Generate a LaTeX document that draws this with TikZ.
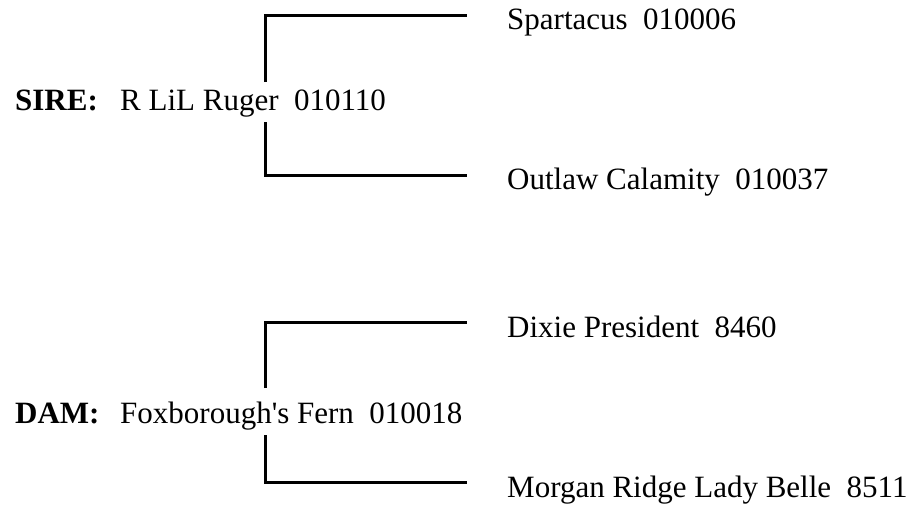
\documentclass[tikz,border=0pt]{standalone}
\usepackage{fontspec}
\setmainfont{Liberation Serif}
\begin{document}
\begin{tikzpicture}[x=1pt,y=-1pt,
  lbl/.style={anchor=base west, inner sep=0pt, font=\fontsize{31}{31}\selectfont},
  bracket/.style={line width=3pt, line join=miter}]
\useasboundingbox (0,0) rectangle (916,506);
% labels
\node[lbl] (sirehead) at (15,110) {\textbf{SIRE:}};
\node[lbl] (sire) at (120,110) {R LiL Ruger\ \ 010110};
\node[lbl] (s1) at (507,29) {Spartacus\ \ 010006};
\node[lbl] (s2) at (507,189) {Outlaw Calamity\ \ 010037};
\node[lbl] (damhead) at (15,423) {\textbf{DAM:}};
\node[lbl] (dam) at (120,423) {Foxborough\textquotesingle s Fern\ \ 010018};
\node[lbl] (d1) at (507,337) {Dixie President\ \ 8460};
\node[lbl] (d2) at (507,497) {Morgan Ridge Lady Belle\ \ 8511};
% connector ends
\coordinate (sireup) at (265,82);
\coordinate (siredown) at (265,122);
\coordinate (s1end) at (467,15);
\coordinate (s2end) at (467,175);
\coordinate (damup) at (265,388);
\coordinate (damdown) at (265,435);
\coordinate (d1end) at (467,322);
\coordinate (d2end) at (467,482);
% brackets
\draw[bracket] (sireup) |- (s1end);
\draw[bracket] (siredown) |- (s2end);
\draw[bracket] (damup) |- (d1end);
\draw[bracket] (damdown) |- (d2end);
\end{tikzpicture}
\end{document}
